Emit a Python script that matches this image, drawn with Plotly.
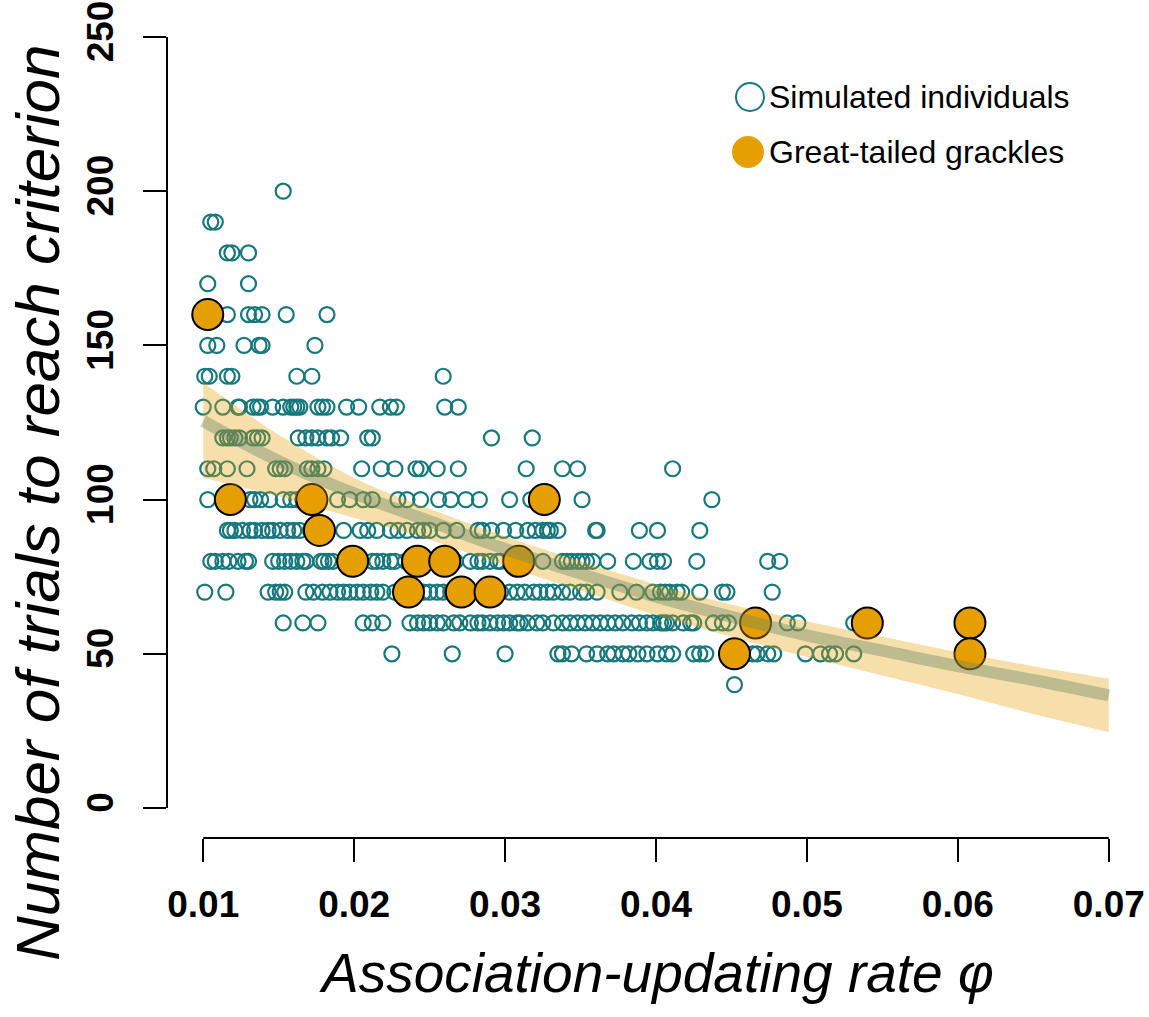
import plotly.graph_objects as go

# ---- Simulated individuals: x values (association-updating rate) per trials level ----
sim_200 = [0.0153]
sim_190 = [0.0105, 0.0108]
sim_180 = [0.0116, 0.0119, 0.0130]
sim_170 = [0.0103, 0.0130]
sim_160 = [0.0116, 0.0130, 0.0134, 0.0139, 0.0155, 0.0182]
sim_150 = [0.0103, 0.0109, 0.0127, 0.0137, 0.0139, 0.0174]
sim_140 = [0.0101, 0.0104, 0.0116, 0.0119, 0.0162, 0.0172, 0.0259]
sim_130 = [0.0100, 0.0113, 0.0123, 0.0124, 0.0133, 0.0136, 0.0138, 0.0146, 0.0153,
           0.0158, 0.0160, 0.0162, 0.0164, 0.0176, 0.0179, 0.0182, 0.0195, 0.0203,
           0.0217, 0.0224, 0.0228, 0.0260, 0.0269]
sim_120 = [0.0113, 0.0116, 0.0118, 0.0121, 0.0124, 0.0133, 0.0136, 0.0139, 0.0163,
           0.0168, 0.0172, 0.0176, 0.0182, 0.0185, 0.0191, 0.0209, 0.0212, 0.0291, 0.0318]
sim_110 = [0.0103, 0.0107, 0.0116, 0.0129, 0.0148, 0.0151, 0.0154, 0.0169, 0.0172,
           0.0176, 0.0180, 0.0205, 0.0218, 0.0227, 0.0241, 0.0244, 0.0255, 0.0269,
           0.0314, 0.0338, 0.0348, 0.0411]
sim_100 = [0.0103, 0.0113, 0.0131, 0.0134, 0.0138, 0.0144, 0.0153, 0.0158, 0.0162,
           0.0166, 0.0189, 0.0197, 0.0206, 0.0212, 0.0229, 0.0235, 0.0244, 0.0256,
           0.0264, 0.0274, 0.0283, 0.0303, 0.0317, 0.0351, 0.0437]
sim_90 = [0.0116, 0.0118, 0.0121, 0.0126, 0.0131, 0.0134, 0.0139, 0.0143, 0.0146,
          0.0151, 0.0156, 0.0160, 0.0164, 0.0171, 0.0181, 0.0193, 0.0204, 0.0209,
          0.0215, 0.0224, 0.0229, 0.0235, 0.0242, 0.0246, 0.0250, 0.0259, 0.0268,
          0.0282, 0.0285, 0.0291, 0.0299, 0.0307, 0.0315, 0.0320, 0.0325, 0.0328,
          0.0330, 0.0335, 0.0360, 0.0361, 0.0389, 0.0401, 0.0429]
sim_80 = [0.0105, 0.0108, 0.0113, 0.0117, 0.0123, 0.0128, 0.0130, 0.0146, 0.0150,
          0.0154, 0.0158, 0.0162, 0.0166, 0.0168, 0.0178, 0.0180, 0.0183, 0.0186,
          0.0194, 0.0203, 0.0212, 0.0215, 0.0219, 0.0224, 0.0227, 0.0234, 0.0250,
          0.0267, 0.0277, 0.0282, 0.0285, 0.0290, 0.0295, 0.0297, 0.0325, 0.0338,
          0.0341, 0.0344, 0.0348, 0.0351, 0.0354, 0.0358, 0.0368, 0.0385, 0.0396,
          0.0401, 0.0405, 0.0427, 0.0474, 0.0482]
sim_70 = [0.0101, 0.0115, 0.0143, 0.0148, 0.0151, 0.0154, 0.0168, 0.0173, 0.0179,
          0.0184, 0.0189, 0.0193, 0.0197, 0.0202, 0.0206, 0.0211, 0.0215, 0.0219,
          0.0227, 0.0240, 0.0246, 0.0250, 0.0255, 0.0259, 0.0264, 0.0277, 0.0283,
          0.0297, 0.0303, 0.0308, 0.0313, 0.0319, 0.0323, 0.0328, 0.0332, 0.0338,
          0.0343, 0.0350, 0.0354, 0.0361, 0.0376, 0.0387, 0.0398, 0.0403, 0.0406,
          0.0409, 0.0414, 0.0417, 0.0429, 0.0444, 0.0447, 0.0477]
sim_60 = [0.0153, 0.0166, 0.0176, 0.0206, 0.0212, 0.0219, 0.0237, 0.0242, 0.0246,
          0.0250, 0.0255, 0.0259, 0.0266, 0.0270, 0.0277, 0.0282, 0.0285, 0.0290,
          0.0295, 0.0299, 0.0303, 0.0308, 0.0310, 0.0315, 0.0321, 0.0325, 0.0332,
          0.0338, 0.0343, 0.0348, 0.0353, 0.0358, 0.0363, 0.0368, 0.0373, 0.0378,
          0.0384, 0.0389, 0.0394, 0.0398, 0.0403, 0.0405, 0.0407, 0.0411, 0.0418,
          0.0423, 0.0425, 0.0438, 0.0444, 0.0448, 0.0487, 0.0494, 0.0531]
sim_50 = [0.0225, 0.0265, 0.0300, 0.0335, 0.0338, 0.0344, 0.0354, 0.0361, 0.0368,
          0.0372, 0.0378, 0.0382, 0.0388, 0.0394, 0.0401, 0.0407, 0.0411, 0.0425,
          0.0429, 0.0433, 0.0464, 0.0467, 0.0474, 0.0478, 0.0499, 0.0509, 0.0515,
          0.0519, 0.0531]
sim_40 = [0.0452]

sim_rows = {200: sim_200, 190: sim_190, 180: sim_180, 170: sim_170, 160: sim_160,
            150: sim_150, 140: sim_140, 130: sim_130, 120: sim_120, 110: sim_110,
            100: sim_100, 90: sim_90, 80: sim_80, 70: sim_70, 60: sim_60, 50: sim_50,
            40: sim_40}

# ---- Great-tailed grackles ----
grackle_x = [0.0103, 0.0118, 0.0172, 0.0177, 0.0199, 0.0236, 0.0242, 0.0260, 0.0271,
             0.0290, 0.0309, 0.0326, 0.0452, 0.0466, 0.0540, 0.0608, 0.0608]
grackle_y = [160, 100, 100, 90, 80, 70, 80, 80, 70, 70, 80, 100, 50, 60, 60, 60, 50]

# ---- Model prediction (mean and interval) ----
curve_x = [0.010, 0.015, 0.020, 0.025, 0.030, 0.035, 0.040, 0.045, 0.050, 0.055, 0.060, 0.065, 0.070]
curve_mean = [125.5, 112.5, 102.0, 93.0, 84.0, 76.0, 68.5, 62.0, 56.0, 51.0, 46.0, 41.5, 36.5]
curve_upper = [138.0, 121.0, 107.0, 97.0, 88.0, 80.0, 72.5, 66.0, 60.5, 55.5, 50.5, 46.0, 42.0]
curve_lower = [107.0, 101.0, 94.0, 87.0, 78.5, 70.5, 62.5, 55.5, 49.0, 43.0, 37.0, 30.5, 24.6]

x_ticks = [0.01, 0.02, 0.03, 0.04, 0.05, 0.06, 0.07]
x_ticktext = ["0.01", "0.02", "0.03", "0.04", "0.05", "0.06", "0.07"]
y_ticks = [0, 50, 100, 150, 200, 250]
y_ticktext = ["0", "50", "100", "150", "200", "250"]

TEAL = "#16787D"
ORANGE = "#E69F00"
FONT = "Liberation Sans, Arial, Helvetica, sans-serif"

sim_x, sim_y = [], []
for yv, xs in sim_rows.items():
    sim_x.extend(xs)
    sim_y.extend([yv] * len(xs))

fig = go.Figure()
fig.add_trace(go.Scatter(
    x=sim_x, y=sim_y, mode="markers", showlegend=False,
    marker=dict(symbol="circle-open", size=15, color=TEAL, line=dict(width=2.2, color=TEAL)),
    hoverinfo="skip"))
fig.add_trace(go.Scatter(
    x=grackle_x, y=grackle_y, mode="markers", showlegend=False,
    marker=dict(symbol="circle", size=31, color=ORANGE, line=dict(width=2, color="black")),
    hoverinfo="skip"))
fig.add_trace(go.Scatter(
    x=curve_x, y=curve_lower, mode="lines", line=dict(width=0, shape="spline"),
    showlegend=False, hoverinfo="skip"))
fig.add_trace(go.Scatter(
    x=curve_x, y=curve_upper, mode="lines", line=dict(width=0, shape="spline"),
    fill="tonexty", fillcolor="rgba(230,159,0,0.33)", showlegend=False, hoverinfo="skip"))
fig.add_trace(go.Scatter(
    x=curve_x, y=curve_mean, mode="lines",
    line=dict(width=12, color="rgba(105,135,100,0.4)", shape="spline"),
    showlegend=False, hoverinfo="skip"))

# figure fills the page (body margin removed below)
W, H = 1149, 1017
ml, mr, mt, mb = 167, 4, 0, H - 838
pw, ph = W - ml - mr, H - mt - mb

def px(xp):
    return (xp - ml) / pw

def py(yp):
    return (H - mb - yp) / ph

shapes = [
    dict(type="line", xref="paper", yref="y", x0=0, x1=0, y0=0, y1=250,
         line=dict(color="black", width=2)),
    dict(type="line", xref="x", yref="paper", x0=0.01, x1=0.07, y0=0, y1=0,
         line=dict(color="black", width=2)),
    # legend symbols
    dict(type="circle", xref="paper", yref="paper",
         x0=px(736), x1=px(764), y0=py(111), y1=py(83),
         line=dict(color=TEAL, width=2), fillcolor="rgba(0,0,0,0)"),
    dict(type="circle", xref="paper", yref="paper",
         x0=px(732), x1=px(764), y0=py(168), y1=py(136),
         line=dict(color=ORANGE, width=0), fillcolor=ORANGE),
]

annotations = [
    dict(text="Simulated individuals", xref="paper", yref="paper", x=px(767), y=py(97),
         xanchor="left", yanchor="middle", showarrow=False,
         font=dict(family=FONT, size=32, color="black")),
    dict(text="Great-tailed grackles", xref="paper", yref="paper", x=px(767), y=py(152),
         xanchor="left", yanchor="middle", showarrow=False,
         font=dict(family=FONT, size=32, color="black")),
    dict(text="<i>Association-updating rate φ</i>", xref="paper", yref="paper",
         x=px(656), y=py(973), xanchor="center", yanchor="middle", showarrow=False,
         font=dict(family=FONT, size=55, color="black")),
    dict(text="<i>Number of trials to reach criterion</i>", xref="paper", yref="paper",
         x=px(37), y=py(503), xanchor="center", yanchor="middle", showarrow=False,
         textangle=-90, font=dict(family=FONT, size=62, color="black")),
]

# y: value 0 at page y 808, 250 at page y 37; plot area spans page y 0..838
scale = (808 - 37) / 250
y_top = 250 + 37 / scale
y_bot = -(838 - 808) / scale

fig.update_layout(
    width=W, height=H,
    margin=dict(l=ml, r=mr, t=mt, b=mb, pad=0),
    paper_bgcolor="white", plot_bgcolor="white",
    showlegend=False,
    shapes=shapes, annotations=annotations,
    xaxis=dict(range=[0.0076, 0.0724], tickvals=x_ticks, ticktext=x_ticktext,
               showgrid=False, zeroline=False, showline=False,
               ticks="outside", ticklen=23, tickwidth=2, tickcolor="black",
               tickfont=dict(family=FONT, size=37, color="black", weight="bold"),
               ticklabelstandoff=11, ticklabeloverflow="allow",
               automargin=False, fixedrange=True),
    yaxis=dict(range=[y_bot, y_top], tickvals=y_ticks, ticktext=y_ticktext,
               showgrid=False, zeroline=False, showline=False,
               ticks="outside", ticklen=23, tickwidth=2, tickcolor="black",
               tickangle=-90,
               tickfont=dict(family=FONT, size=37, color="black", weight="bold"),
               ticklabelstandoff=15, ticklabeloverflow="allow",
               automargin=False, fixedrange=True),
)

fig.write_html(
    "out.html",
    config={"displayModeBar": False},
    post_script="document.body.style.margin='0';document.body.style.overflow='hidden';",
)
